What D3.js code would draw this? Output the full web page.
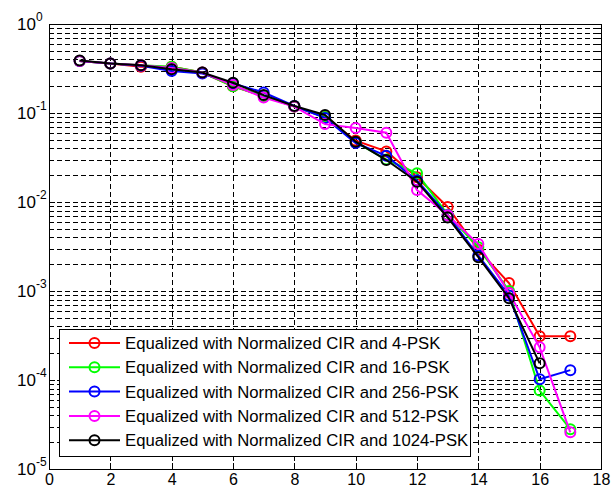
<!DOCTYPE html>
<html>
<head>
<meta charset="utf-8">
<script src="https://cdn.jsdelivr.net/npm/d3@7"></script>
<style>
body { margin: 0; background: #fff; }
</style>
</head>
<body>
<div id="chart-area"></div>
<script>
// data
var snr = [1, 2, 3, 4, 5, 6, 7, 8, 9, 10, 11, 12, 13, 14, 15, 16, 17];
var psk4 = [0.385, 0.36, 0.33, 0.33, 0.285, 0.2, 0.155, 0.118, 0.09, 0.049, 0.037, 0.019, 0.0088, 0.0029, 0.00123, 0.00031, 0.00031];
var psk16 = [0.385, 0.36, 0.345, 0.33, 0.285, 0.2, 0.155, 0.118, 0.09, 0.047, 0.03, 0.021, 0.0072, 0.0031, 0.001, 0.000076, 0.000028];
var psk256 = [0.385, 0.36, 0.34, 0.296, 0.277, 0.215, 0.17, 0.12, 0.088, 0.046, 0.033, 0.0175, 0.0071, 0.0025, 0.00089, 0.000102, 0.000129];
var psk512 = [0.385, 0.36, 0.345, 0.32, 0.285, 0.206, 0.149, 0.118, 0.075, 0.068, 0.06, 0.0136, 0.0071, 0.00337, 0.00095, 0.000233, 0.0000258];
var psk1024 = [0.39, 0.36, 0.345, 0.31, 0.285, 0.219, 0.159, 0.12, 0.095, 0.0476, 0.0296, 0.0169, 0.0067, 0.0024, 0.00083, 0.000154];
var labels = [
    "Equalized with Normalized CIR and 4-PSK",
    "Equalized with Normalized CIR and 16-PSK",
    "Equalized with Normalized CIR and 256-PSK",
    "Equalized with Normalized CIR and 512-PSK",
    "Equalized with Normalized CIR and 1024-PSK"
];
var colors = ["#ff0000", "#00ff00", "#0000ff", "#ff00ff", "#000000"];
var xTicks = [0, 2, 4, 6, 8, 10, 12, 14, 16, 18];
var yExps = [0, -1, -2, -3, -4, -5];

var margin = { left: 49, right: 13, top: 24, bottom: 22 };
var width = 614 - margin.left - margin.right,
    height = 491 - margin.top - margin.bottom;

var svg = d3.select("#chart-area").append("svg")
    .attr("width", 614)
    .attr("height", 491)
    .style("font-family", "'Liberation Sans', Arial, sans-serif");

var g = svg.append("g").attr("transform", "translate(" + margin.left + "," + margin.top + ")");

var x = d3.scaleLinear().domain([0, 18]).range([0, width]);
var y = d3.scaleLog().domain([1e-5, 1]).range([height, 0]);

// minor log values
var minorVals = [];
for (var k = -5; k < 0; k++) {
    for (var m = 1; m <= 9; m++) minorVals.push(m * Math.pow(10, k));
}
minorVals.push(1);

// horizontal grid
g.selectAll(".hgrid").data(minorVals).enter().append("line")
    .attr("class", "hgrid")
    .attr("x1", 0).attr("x2", width)
    .attr("y1", (d) => Math.round(y(d)) + 0.5)
    .attr("y2", (d) => Math.round(y(d)) + 0.5)
    .attr("stroke", "#000")
    .attr("stroke-width", 1)
    .attr("stroke-dasharray", "5,3");

// vertical grid
g.selectAll(".vgrid").data(xTicks.slice(1, -1)).enter().append("line")
    .attr("class", "vgrid")
    .attr("y1", 0).attr("y2", height)
    .attr("x1", (d) => Math.round(x(d)) + 0.5)
    .attr("x2", (d) => Math.round(x(d)) + 0.5)
    .attr("stroke", "#000")
    .attr("stroke-width", 1)
    .attr("stroke-dasharray", "5,3");

// ticks (inside, mirrored)
var tickG = g.append("g").attr("stroke", "#000").attr("stroke-width", 1);
xTicks.forEach((d) => {
    var px = Math.round(x(d)) + 0.5;
    tickG.append("line").attr("x1", px).attr("x2", px).attr("y1", height).attr("y2", height - 6);
    tickG.append("line").attr("x1", px).attr("x2", px).attr("y1", 0).attr("y2", 6);
});
minorVals.forEach((d) => {
    var py = Math.round(y(d)) + 0.5;
    var major = Math.abs(Math.log10(d) - Math.round(Math.log10(d))) < 1e-9;
    var len = major ? 6 : 3;
    tickG.append("line").attr("x1", 0).attr("x2", len).attr("y1", py).attr("y2", py);
    tickG.append("line").attr("x1", width - len).attr("x2", width).attr("y1", py).attr("y2", py);
});

// box
g.append("rect")
    .attr("x", 0.5).attr("y", 0.5)
    .attr("width", width).attr("height", height)
    .attr("fill", "none")
    .attr("stroke", "#000");

// x tick labels
var bottomAxis = d3.axisBottom(x).tickValues(xTicks).tickSize(0).tickPadding(5);
var xAxisGroup = g.append("g")
    .attr("transform", "translate(0," + height + ")")
    .call(bottomAxis);
xAxisGroup.select(".domain").remove();
xAxisGroup.selectAll("text")
    .attr("font-family", "'Liberation Sans Narrow', 'Liberation Sans', Arial, sans-serif")
    .attr("font-size", "16px")
    .attr("fill", "#000");

// y tick labels 10^k
var yLab = g.selectAll(".ylab").data(yExps).enter().append("text")
    .attr("class", "ylab")
    .attr("x", -32)
    .attr("y", (d) => y(Math.pow(10, d)) + 6)
    .attr("text-anchor", "start")
    .attr("font-family", "'Liberation Sans Narrow', 'Liberation Sans', Arial, sans-serif")
    .attr("font-size", "17px")
    .attr("fill", "#000")
    .text("10");
yLab.append("tspan")
    .attr("dy", -9)
    .attr("font-size", "12px")
    .text((d) => d === 0 ? "0" : "-" + Math.abs(d));

// series
var series = [psk4, psk16, psk256, psk512, psk1024];
var line = d3.line()
    .x((d) => x(d.x))
    .y((d) => y(d.v));

series.forEach((vals, i) => {
    var pts = vals.map((v, j) => ({ x: snr[j], v: v }));
    var sg = g.append("g");
    sg.append("path")
        .datum(pts)
        .attr("d", line)
        .attr("fill", "none")
        .attr("stroke", colors[i])
        .attr("stroke-width", 2);
    sg.selectAll("circle").data(pts).enter().append("circle")
        .attr("cx", (d) => x(d.x))
        .attr("cy", (d) => y(d.v))
        .attr("r", 5)
        .attr("fill", "none")
        .attr("stroke", colors[i])
        .attr("stroke-width", 2);
});

// legend
var legend = svg.append("g").attr("transform", "translate(59,329)");
legend.append("rect")
    .attr("x", 0.5).attr("y", 0.5)
    .attr("width", 411).attr("height", 127)
    .attr("fill", "#fff")
    .attr("stroke", "#000");
labels.forEach((lab, i) => {
    var ly = 14 + i * 24.3;
    var row = legend.append("g").attr("transform", "translate(0," + ly + ")");
    row.append("line")
        .attr("x1", 10).attr("x2", 61)
        .attr("y1", 0).attr("y2", 0)
        .attr("stroke", colors[i])
        .attr("stroke-width", 2);
    row.append("circle")
        .attr("cx", 35.5).attr("cy", 0).attr("r", 5)
        .attr("fill", "none")
        .attr("stroke", colors[i])
        .attr("stroke-width", 2);
    row.append("text")
        .attr("x", 66).attr("y", 6)
        .attr("font-size", "16.7px")
        .attr("fill", "#000")
        .text(lab);
});
</script>
</body>
</html>
